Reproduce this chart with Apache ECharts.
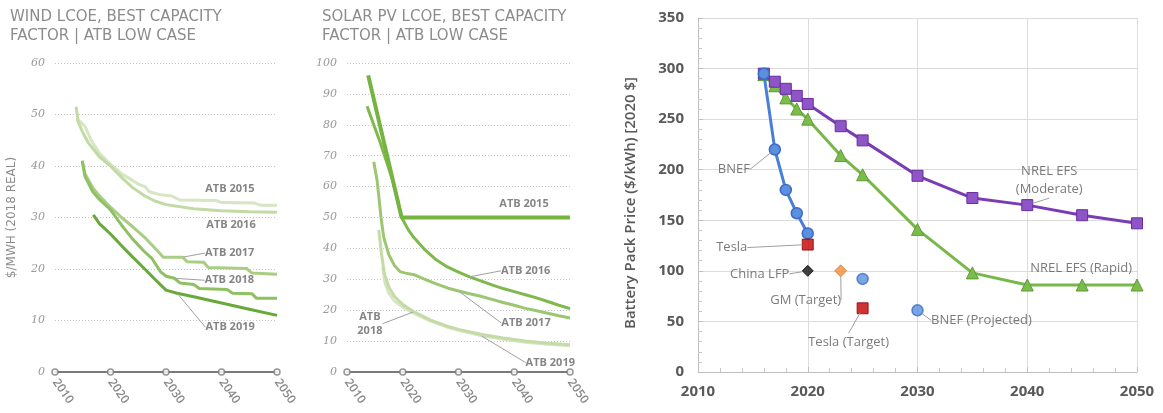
<!DOCTYPE html>
<html><head><meta charset="utf-8">
<script src="https://cdn.jsdelivr.net/npm/echarts@6/dist/echarts.min.js"></script>
<style>html,body{margin:0;padding:0;background:#fff}#c{width:1163px;height:413px}</style>
</head><body><div id="c"></div>
<script>
// ---------- DATA ----------
const lcoeTicks = [2010, 2020, 2030, 2040, 2050];

// Wind LCOE ($/MWh, 2018 real) [year, value]
const windATB2015 = [[2013.8,49],[2014.6,48.6],[2015.5,47.5],[2016.5,45],[2018,42.5],[2020,40.3],[2022,38.5],[2023.5,37.5],[2025,36.5],[2026.2,36],[2027,35],[2029,34.4],[2031,34.2],[2032.5,33.4],[2039,33.3],[2040,32.9],[2046,32.8],[2047,32.4],[2050,32.4]];
const windATB2016 = [[2013.8,51.5],[2014.2,48.5],[2015,46.5],[2016,44.5],[2018,41.8],[2020,40],[2022,37.8],[2024,35.8],[2026,34.3],[2028,33.2],[2030,32.5],[2035,31.7],[2040,31.3],[2045,31.1],[2050,31]];
const windATB2017 = [[2014.9,41],[2015.4,38.5],[2016.8,35.8],[2018,34.2],[2020,32],[2022,30],[2024,28.2],[2026,26.3],[2027,25.2],[2028.5,23.5],[2029.5,22.3],[2033,22.3],[2033.8,21.4],[2036.8,21.3],[2037.6,20.3],[2044.5,20.1],[2045.5,19.2],[2050,19]];
const windATB2018 = [[2014.9,41],[2015.4,38],[2016.8,35],[2018,33.5],[2020,31.5],[2022,28.5],[2024,25.8],[2026,23.5],[2027.5,22],[2029,19.5],[2030,18.6],[2031.5,18.2],[2032.5,17.3],[2035,17],[2036,16.2],[2041,16],[2042,15.3],[2045.5,15.2],[2046.3,14.3],[2050,14.3]];
const windATB2019 = [[2016.9,30.5],[2018,28.8],[2020,26.8],[2022,24.5],[2024,22.3],[2026,20.2],[2028,18],[2030,15.9],[2032,15.3],[2035,14.6],[2040,13.4],[2045,12.2],[2050,11]];

// Solar PV LCOE
const solarATB2015 = [[2013.8,96],[2019.8,50],[2050,50]];
const solarATB2016 = [[2013.6,86],[2016,74],[2018.2,62],[2019.8,50],[2021,46],[2022,43.5],[2024,39.5],[2026,36.3],[2028,34],[2030,32.3],[2032,30.8],[2034,29.5],[2036,28.2],[2038,27],[2040,26],[2042,25],[2044,24],[2046,22.8],[2048,21.6],[2050,20.5]];
const solarATB2017 = [[2014.8,68],[2015.4,62],[2016.1,50],[2016.6,43.5],[2017.5,38],[2018.5,34.5],[2019.5,32.5],[2020.5,32],[2022,31.5],[2024,30],[2026,28.5],[2028,27.2],[2030,26.2],[2032,25.3],[2034,24.5],[2036,23.5],[2038,22.5],[2040,21.6],[2042,20.6],[2044,19.8],[2046,19],[2048,18.2],[2050,17.5]];
const solarATB2018 = [[2015.7,46],[2016.2,38],[2016.7,32],[2017.5,27.5],[2018.5,24.5],[2020,21.8],[2022,19.5],[2025,16.8],[2028,14.8],[2030,13.8],[2034,12.2],[2038,11],[2042,10],[2046,9.3],[2050,8.8]];
const solarATB2019 = [[2016.4,34],[2016.8,29],[2017.5,25.5],[2018.5,23],[2020,21],[2022,19],[2025,16.5],[2028,14.5],[2030,13.5],[2034,11.8],[2038,10.6],[2042,9.6],[2046,9],[2050,8.5]];

// Battery pack price ($/kWh, 2020 $)
const bnefYears = [2016, 2017, 2018, 2019, 2020];
const bnefPrices = [295, 220, 180, 157, 137];
const nrelYears = [2016, 2017, 2018, 2019, 2020, 2023, 2025, 2030, 2035, 2040, 2045, 2050];
const nrelModerate = [295, 287, 280, 273, 265, 243, 229, 194, 172, 165, 155, 147];
const nrelRapid = [294, 283, 271, 260, 250, 214, 195, 141, 98, 86, 86, 86];
const teslaPoint = [2020, 126];
const chinaLFPPoint = [2020, 100];
const gmTargetPoint = [2023, 100];
const teslaTargetPoint = [2025, 63];
const bnefProjectedPoints = [[2025, 92], [2030, 61]];

// ---------- HELPERS ----------
const zip = (xs, ys) => xs.map((x, i) => [x, ys[i]]);
const plain = v => String(v);
const GRAY_TXT = '#666666';

function lcoeLine(gi, data, color, width) {
  return { type: 'line', xAxisIndex: gi, yAxisIndex: gi, data: data, showSymbol: false, symbol: 'none',
    lineStyle: { color: color, width: width }, silent: true, animation: false };
}
function annot(gi, pt, text, o) {
  return {
    type: 'scatter', xAxisIndex: gi, yAxisIndex: gi, z: 20, silent: true, animation: false,
    data: [pt], symbol: 'circle', symbolSize: o.size || 2,
    itemStyle: { color: 'rgba(0,0,0,0)' },
    label: { show: true, position: 'inside', formatter: text, color: o.color || GRAY_TXT,
      fontFamily: o.font || 'Open Sans', fontSize: o.fontSize || 11, fontWeight: o.weight || 'bold',
      lineHeight: o.lineHeight || 14, textBorderWidth: 0 },
    labelLayout: { dx: o.dx, dy: o.dy },
    labelLine: { show: o.line !== false, lineStyle: { color: '#a0a0a0', width: 1 } }
  };
}
function axisDots(gi) {
  return { type: 'scatter', xAxisIndex: gi, yAxisIndex: gi, z: 15, silent: true, animation: false,
    data: lcoeTicks.map(t => [t, 0]), symbol: 'circle', symbolSize: 6,
    itemStyle: { color: '#fff', borderColor: '#7a7a7a', borderWidth: 1.5 } };
}
function lcoeX(gi) {
  return { gridIndex: gi, type: 'value', min: 2010, max: 2050, interval: 10,
    axisLine: { show: true, lineStyle: { color: '#7a7a7a', width: 2 } }, axisTick: { show: false },
    splitLine: { show: false },
    axisLabel: { formatter: plain, rotate: -55, color: '#888888', fontSize: 12, fontWeight: 600, fontFamily: 'Open Sans', margin: 8 } };
}
function lcoeY(gi, max, name) {
  return { gridIndex: gi, type: 'value', min: 0, max: max, interval: 10,
    axisLine: { show: false }, axisTick: { show: false },
    splitLine: { lineStyle: { color: '#c4c4c4', type: [1, 2], width: 1 } },
    axisLabel: { color: '#9a9a9a', fontSize: 11, fontStyle: 'italic', fontFamily: 'DejaVu Serif', margin: 10 },
    name: name, nameLocation: 'middle', nameRotate: 90, nameGap: 37,
    nameTextStyle: { fontFamily: 'DejaVu Sans', fontSize: 12, color: '#8c8c8c' } };
}
const titleStyle = { fontFamily: 'DejaVu Sans', fontSize: 15, fontWeight: 'normal', color: '#8c8c8c', lineHeight: 19 };
const batFont = { fontFamily: 'Open Sans', fontSize: 13, weight: 'normal', color: '#595959', lineHeight: 18 };

const option = {
  backgroundColor: '#fff',
  animation: false,
  title: [
    { text: 'WIND LCOE, BEST CAPACITY\nFACTOR | ATB LOW CASE', left: 10, top: 8, padding: 0, textStyle: titleStyle },
    { text: 'SOLAR PV LCOE, BEST CAPACITY\nFACTOR | ATB LOW CASE', left: 322, top: 8, padding: 0, textStyle: titleStyle }
  ],
  grid: [
    { left: 55, top: 63, width: 222, height: 309 },
    { left: 347, top: 63, width: 223, height: 309 },
    { left: 698, top: 18, width: 439, height: 354 }
  ],
  xAxis: [
    lcoeX(0), lcoeX(1),
    { gridIndex: 2, type: 'value', min: 2010, max: 2050, interval: 10,
      axisLine: { show: true, lineStyle: { color: '#bfbfbf' } },
      axisTick: { show: true, inside: true, length: 5, lineStyle: { color: '#bfbfbf' } },
      minorTick: { show: true, splitNumber: 5, length: 4, lineStyle: { color: '#c8c8c8' } },
      splitLine: { show: true, lineStyle: { color: '#dcdcdc' } },
      axisLabel: { formatter: plain, fontFamily: 'Open Sans', fontWeight: 'bold', fontSize: 15, color: '#595959', margin: 12 } }
  ],
  yAxis: [
    lcoeY(0, 60, '$/MWH (2018 REAL)'), lcoeY(1, 100, ''),
    { gridIndex: 2, type: 'value', min: 0, max: 350, interval: 50,
      axisLine: { show: true, lineStyle: { color: '#bfbfbf' } },
      axisTick: { show: true, inside: true, length: 5, lineStyle: { color: '#bfbfbf' } },
      minorTick: { show: true, splitNumber: 5, length: 4, lineStyle: { color: '#c8c8c8' } },
      splitLine: { show: true, lineStyle: { color: '#dcdcdc' } },
      axisLabel: { formatter: plain, fontFamily: 'Open Sans', fontWeight: 'bold', fontSize: 15, color: '#595959', margin: 14 },
      name: 'Battery Pack Price ($/kWh) [2020 $]', nameLocation: 'middle', nameRotate: 90, nameGap: 60,
      nameTextStyle: { fontFamily: 'Open Sans', fontSize: 15, fontWeight: 600, color: '#595959', padding: [0, 16, 0, 0] } }
  ],
  series: [
    // Wind
    lcoeLine(0, windATB2015, '#d6e6c2', 3),
    lcoeLine(0, windATB2016, '#c2daa3', 3),
    lcoeLine(0, windATB2017, '#a9cd82', 3),
    lcoeLine(0, windATB2018, '#8fc062', 3),
    lcoeLine(0, windATB2019, '#68a93a', 3),
    axisDots(0),
    annot(0, windATB2015[14], 'ATB 2015', { dx: 14, dy: -11.5, line: false }),
    annot(0, windATB2016[12], 'ATB 2016', { dx: 9.5, dy: 14, line: false }),
    annot(0, windATB2017[11], 'ATB 2017', { dx: 47, dy: -4 }),
    annot(0, windATB2018[11], 'ATB 2018', { dx: 55, dy: 2 }),
    annot(0, windATB2019[8], 'ATB 2019', { dx: 53, dy: 34 }),
    // Solar
    lcoeLine(1, solarATB2019, '#d6e6c3', 3),
    lcoeLine(1, solarATB2018, '#c4dba6', 3),
    lcoeLine(1, solarATB2017, '#9cc672', 3),
    lcoeLine(1, solarATB2016, '#7fb84d', 3),
    lcoeLine(1, solarATB2015, '#76b442', 4),
    axisDots(1),
    annot(1, solarATB2015[2], 'ATB 2015', { dx: -46, dy: -13.5, line: false }),
    annot(1, solarATB2016[10], 'ATB 2016', { dx: 56, dy: -6 }),
    annot(1, solarATB2017[12], 'ATB 2017', { dx: 67.5, dy: 32 }),
    annot(1, solarATB2019[9], 'ATB 2019', { dx: 69.5, dy: 27 }),
    annot(1, solarATB2018[6], 'ATB\n2018', { dx: -44, dy: 12 }),
    // Battery
    { type: 'line', xAxisIndex: 2, yAxisIndex: 2, data: zip(nrelYears, nrelRapid), symbol: 'triangle', symbolSize: 12,
      showAllSymbol: true, lineStyle: { color: '#78b84b', width: 3 },
      itemStyle: { color: '#7bbd4b', borderColor: '#5f9b36', borderWidth: 1 }, z: 3 },
    { type: 'line', xAxisIndex: 2, yAxisIndex: 2, data: zip(nrelYears, nrelModerate), symbol: 'rect', symbolSize: 11,
      showAllSymbol: true, lineStyle: { color: '#7a3cb5', width: 3 },
      itemStyle: { color: '#8d55c6', borderColor: '#6a2ca0', borderWidth: 1 }, z: 4 },
    { type: 'line', xAxisIndex: 2, yAxisIndex: 2, data: zip(bnefYears, bnefPrices), symbol: 'circle', symbolSize: 11,
      showAllSymbol: true, lineStyle: { color: '#4a7fd6', width: 3 },
      itemStyle: { color: '#5b8fe0', borderColor: '#3b6cc4', borderWidth: 1.5 }, z: 5 },
    { type: 'scatter', xAxisIndex: 2, yAxisIndex: 2, data: bnefProjectedPoints, symbol: 'circle', symbolSize: 11,
      itemStyle: { color: '#5b8fe0', borderColor: '#3b6cc4', borderWidth: 1.5 }, z: 5 },
    { type: 'scatter', xAxisIndex: 2, yAxisIndex: 2, data: [teslaPoint, teslaTargetPoint], symbol: 'rect', symbolSize: 11,
      itemStyle: { color: '#c40000', borderColor: '#8a0000', borderWidth: 1 }, z: 5 },
    { type: 'scatter', xAxisIndex: 2, yAxisIndex: 2, data: [chinaLFPPoint], symbol: 'diamond', symbolSize: 11,
      itemStyle: { color: '#111', borderColor: '#000', borderWidth: 1 }, z: 5 },
    { type: 'scatter', xAxisIndex: 2, yAxisIndex: 2, data: [gmTargetPoint], symbol: 'diamond', symbolSize: 12,
      itemStyle: { color: '#f08c3c', borderColor: '#e07a2a', borderWidth: 1 }, z: 5 },
    annot(2, [bnefYears[1], bnefPrices[1]], 'BNEF', Object.assign({ dx: -41, dy: 20, size: 11 }, batFont)),
    annot(2, teslaPoint, 'Tesla', Object.assign({ dx: -76, dy: 3, size: 11 }, batFont)),
    annot(2, chinaLFPPoint, 'China LFP', Object.assign({ dx: -48, dy: 3, size: 11 }, batFont)),
    annot(2, gmTargetPoint, 'GM (Target)', Object.assign({ dx: -35, dy: 29, size: 11 }, batFont)),
    annot(2, teslaTargetPoint, 'Tesla (Target)', Object.assign({ dx: -14, dy: 34, size: 11 }, batFont)),
    annot(2, bnefProjectedPoints[1], 'BNEF (Projected)', Object.assign({ dx: 64, dy: 10, size: 11 }, batFont)),
    annot(2, [nrelYears[10], nrelRapid[10]], 'NREL EFS (Rapid)', Object.assign({ dx: -1, dy: -17, line: false }, batFont)),
    annot(2, [nrelYears[9], nrelModerate[9]], 'NREL EFS\n(Moderate)', Object.assign({ dx: 22, dy: -25, size: 11 }, batFont))
  ]
};
const chart = echarts.init(document.getElementById('c'), null, { renderer: 'canvas' });
chart.setOption(option);
</script></body></html>
